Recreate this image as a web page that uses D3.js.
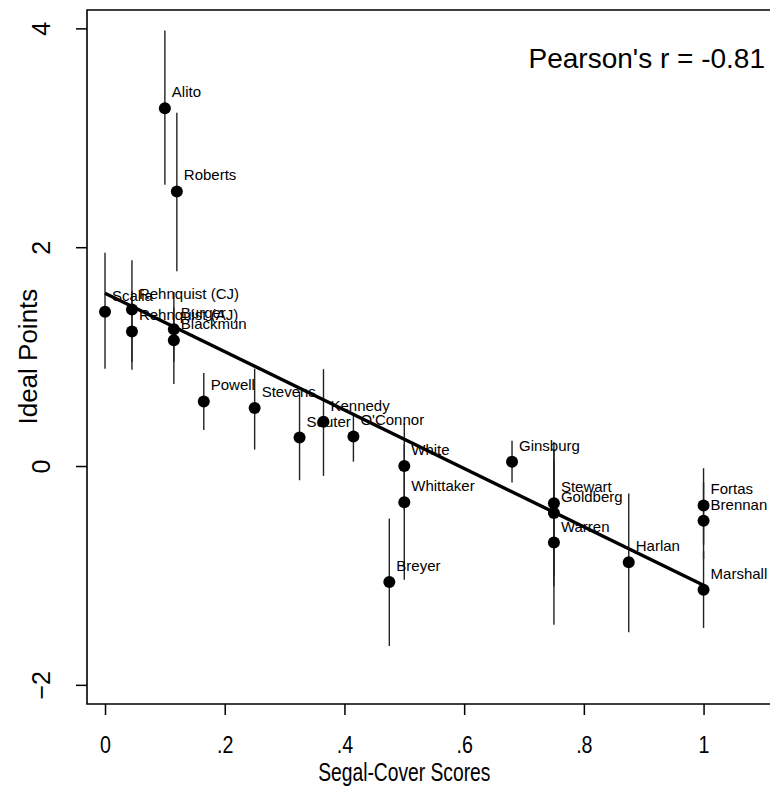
<!DOCTYPE html>
<html>
<head>
<meta charset="utf-8">
<script src="https://cdn.jsdelivr.net/npm/d3@7"></script>
<style>
  body { margin: 0; background: #fff; }
  text { font-family: Arial, "Liberation Sans", sans-serif; }
</style>
</head>
<body>
<div class="chart"></div>
<script>
// Justices, Segal-Cover scores and ideal points (with interval ends)
var justices = ["Alito", "Roberts", "Scalia", "Rehnquist (CJ)", "Rehnquist (AJ)", "Burger", "Blackmun",
  "Powell", "Stevens", "Souter", "Kennedy", "O'Connor", "White", "Whittaker", "Ginsburg", "Breyer",
  "Stewart", "Goldberg", "Warren", "Harlan", "Fortas", "Brennan", "Marshall"];
var segalCover = [0.1, 0.12, 0, 0.045, 0.045, 0.115, 0.115,
  0.165, 0.25, 0.325, 0.365, 0.415, 0.5, 0.5, 0.68, 0.475,
  0.75, 0.75, 0.75, 0.875, 1, 1, 1];
var idealPoint = [3.27, 2.51, 1.41, 1.43, 1.23, 1.25, 1.15,
  0.59, 0.53, 0.26, 0.405, 0.27, 0.0, -0.33, 0.04, -1.06,
  -0.34, -0.43, -0.70, -0.88, -0.36, -0.50, -1.13];
var lowerBound = [2.57, 1.78, 0.89, 0.95, 0.88, 0.95, 0.75,
  0.33, 0.15, -0.13, -0.09, 0.04, -0.40, -1.04, -0.15, -1.645,
  -1.00, -1.10, -1.45, -1.52, -0.72, -0.85, -1.48];
var upperBound = [3.98, 3.23, 1.95, 1.88, 1.60, 1.59, 1.45,
  0.85, 0.89, 0.68, 0.885, 0.47, 0.39, 0.20, 0.23, -0.48,
  0.22, 0.15, 0.05, -0.25, -0.02, -0.15, -0.78];

// fitted line end points
var fitX = [0, 1];
var fitY = [1.58, -1.09];

var xTicks = [0, 0.2, 0.4, 0.6, 0.8, 1];
var yTicks = [-2, 0, 2, 4];

var svgWidth = 770;
var svgHeight = 788;

var margin = { top: 10, right: 0, bottom: 84, left: 87 };
var width = svgWidth - margin.left - margin.right;
var height = svgHeight - margin.top - margin.bottom;

var data = justices.map((name, i) => ({
  name: name,
  x: segalCover[i],
  y: idealPoint[i],
  lo: lowerBound[i],
  hi: upperBound[i]
}));

var svg = d3.select(".chart")
  .append("svg")
  .attr("width", svgWidth)
  .attr("height", svgHeight);

var chartGroup = svg.append("g")
  .attr("transform", `translate(${margin.left}, ${margin.top})`);

var xScale = d3.scaleLinear()
  .domain([-0.0301, 1.111])
  .range([0, width]);

var yScale = d3.scaleLinear()
  .domain([-2.175, 4.168])
  .range([height, 0]);

// axes
var bottomAxis = d3.axisBottom(xScale)
  .tickValues(xTicks)
  .tickSize(11)
  .tickFormat(d => d === 0 ? "0" : d === 1 ? "1" : d3.format(".1f")(d).replace(/^0/, ""));

var leftAxis = d3.axisLeft(yScale)
  .tickValues(yTicks)
  .tickSize(11)
  .tickFormat(d3.format("d"));

var xAxisG = chartGroup.append("g")
  .attr("transform", `translate(0, ${height})`)
  .call(bottomAxis);
xAxisG.select(".domain").remove();
xAxisG.selectAll("line").attr("stroke", "#000").attr("stroke-width", 1.5);
xAxisG.selectAll("text")
  .attr("font-size", "24px")
  .attr("fill", "#000")
  .attr("font-family", "Arial, 'Liberation Sans', sans-serif")
  .attr("y", null)
  .attr("dy", null)
  .attr("transform", "translate(0, 49) scale(0.82, 1)");

var yAxisG = chartGroup.append("g")
  .call(leftAxis);
yAxisG.select(".domain").remove();
yAxisG.selectAll("line").attr("stroke", "#000").attr("stroke-width", 1.5);
yAxisG.selectAll("text")
  .attr("font-size", "25px")
  .attr("fill", "#000")
  .attr("font-family", "Arial, 'Liberation Sans', sans-serif")
  .attr("text-anchor", "middle")
  .attr("x", null)
  .attr("dy", null)
  .attr("transform", "translate(-37, 0) rotate(-90)");

// frame: left, top and bottom (right edge falls outside the picture)
chartGroup.append("path")
  .attr("d", `M${width + 5},0H0V${height}H${width + 5}`)
  .attr("fill", "none")
  .attr("stroke", "#000")
  .attr("stroke-width", 1.6);

// error spikes
chartGroup.selectAll(".spike")
  .data(data)
  .enter()
  .append("line")
  .attr("class", "spike")
  .attr("x1", d => xScale(d.x))
  .attr("x2", d => xScale(d.x))
  .attr("y1", d => yScale(d.hi))
  .attr("y2", d => yScale(d.lo))
  .attr("stroke", "#222")
  .attr("stroke-width", 1.4);

// points
chartGroup.selectAll(".dot")
  .data(data)
  .enter()
  .append("circle")
  .attr("class", "dot")
  .attr("cx", d => xScale(d.x))
  .attr("cy", d => yScale(d.y))
  .attr("r", 6)
  .attr("fill", "#000");

// labels
chartGroup.selectAll(".lab")
  .data(data)
  .enter()
  .append("text")
  .attr("class", "lab")
  .attr("x", d => xScale(d.x) + 7)
  .attr("y", d => yScale(d.y) - 11)
  .attr("font-size", "15px")
  .attr("fill", "#000")
  .text(d => d.name);

// fitted line
chartGroup.append("line")
  .attr("x1", xScale(fitX[0]))
  .attr("y1", yScale(fitY[0]))
  .attr("x2", xScale(fitX[1]))
  .attr("y2", yScale(fitY[1]))
  .attr("stroke", "#000")
  .attr("stroke-width", 3.4);

// annotation
chartGroup.append("text")
  .attr("x", width - 5)
  .attr("y", 58)
  .attr("text-anchor", "end")
  .attr("font-size", "28px")
  .attr("fill", "#000")
  .text("Pearson's r = -0.81");

// axis titles
chartGroup.append("text")
  .attr("transform", `translate(${37 - margin.left}, ${yScale(1.0)}) rotate(-90)`)
  .attr("text-anchor", "middle")
  .attr("font-size", "26px")
  .attr("fill", "#000")
  .text("Ideal Points");

chartGroup.append("text")
  .attr("transform", `translate(${xScale(0.5)}, ${781 - margin.top}) scale(0.77, 1)`)
  .attr("text-anchor", "middle")
  .attr("font-size", "25px")
  .attr("fill", "#000")
  .text("Segal-Cover Scores");
</script>
</body>
</html>
